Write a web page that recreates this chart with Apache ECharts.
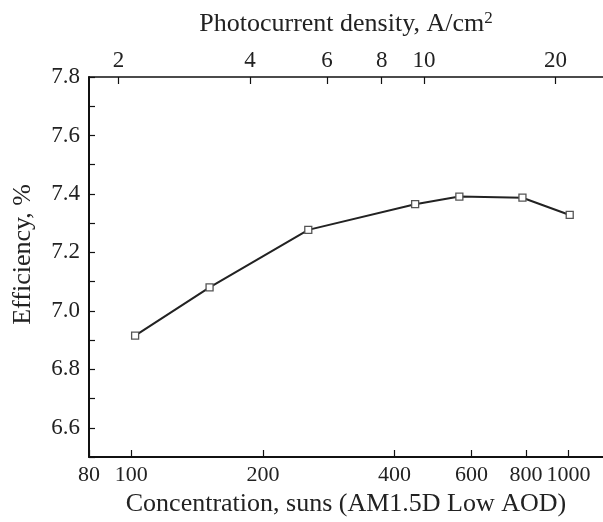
<!DOCTYPE html>
<html>
<head>
<meta charset="utf-8">
<script src="https://cdn.jsdelivr.net/npm/echarts@6/dist/echarts.min.js"></script>
<style>html,body{margin:0;padding:0;background:#fff;}#c{width:603px;height:522px;}</style>
</head>
<body>
<div id="c"></div>
<script>
// Data
const concentration = [102, 151, 254, 446, 563, 785, 1007];
const efficiency = [6.915, 7.08, 7.277, 7.365, 7.391, 7.387, 7.328];
const bottomTicks = [80, 100, 200, 400, 600, 800, 1000];
const topTicks = [2, 4, 6, 8, 10, 20];
const densityPerSun = 0.0214; // A/cm^2 per sun (top axis scale)
const concMin = 80, concMax = 1200;
const yMin = 6.5, yMax = 7.8;

const font = 'Liberation Serif';
const txt = '#222';
const L = Math.log10;

const chart = echarts.init(document.getElementById('c'));
chart.setOption({
  animation: false,
  backgroundColor: '#fff',
  grid: { left: 89, right: -1, top: 77, bottom: 65 },
  xAxis: [
    {
      type: 'value', position: 'bottom',
      min: L(concMin), max: L(concMax),
      axisLine: { show: true, onZero: false, lineStyle: { color: '#111', width: 2 } },
      axisTick: { show: true, inside: true, length: 7, customValues: bottomTicks.map(L), lineStyle: { color: '#111', width: 1.2 } },
      axisLabel: { customValues: bottomTicks.map(L), formatter: v => String(Math.round(Math.pow(10, v))), fontFamily: font, fontSize: 22, color: txt, margin: 7 },
      splitLine: { show: false },
      name: 'Concentration, suns (AM1.5D Low AOD)', nameLocation: 'middle', nameGap: 31,
      nameTextStyle: { fontFamily: font, fontSize: 26, color: txt }
    },
    {
      type: 'value', position: 'top',
      min: L(concMin * densityPerSun), max: L(concMax * densityPerSun),
      axisLine: { show: true, onZero: false, lineStyle: { color: '#111', width: 1.5 } },
      axisTick: { show: true, inside: true, length: 7, customValues: topTicks.map(L), lineStyle: { color: '#111', width: 1.2 } },
      axisLabel: { customValues: topTicks.map(L), formatter: v => String(Math.round(Math.pow(10, v))), fontFamily: font, fontSize: 23, color: txt, margin: 5 },
      splitLine: { show: false },
      name: 'Photocurrent density, A/cm{sup|2}', nameLocation: 'middle', nameGap: 38,
      nameTextStyle: { fontFamily: font, fontSize: 26, color: txt, rich: { sup: { fontFamily: font, fontSize: 17, color: txt, verticalAlign: 'top', padding: [0, 0, 12, 0] } } }
    }
  ],
  yAxis: {
    type: 'value', min: yMin, max: yMax, interval: 0.1,
    axisLine: { show: true, lineStyle: { color: '#111', width: 2 } },
    axisTick: { show: true, inside: true, length: 6, lineStyle: { color: '#111', width: 1.2 } },
    axisLabel: {
      fontFamily: font, fontSize: 23, color: txt, margin: 9,
      formatter: v => (Math.round(v * 10) % 2 === 0 ? v.toFixed(1) : '')
    },
    splitLine: { show: false }
  },
  graphic: [{
    type: 'text', left: 10, top: 184,
    style: { text: 'Efficiency, %', font: '26px "Liberation Serif"', fill: txt },
    rotation: Math.PI / 2, originX: 0, originY: 0
  }],
  series: [{
    type: 'line', xAxisIndex: 0,
    data: concentration.map((c, i) => [L(c), efficiency[i]]),
    symbol: 'rect', symbolSize: 7,
    lineStyle: { color: '#222', width: 2 },
    itemStyle: { color: '#fff', borderColor: '#555', borderWidth: 1.3 }
  }]
});
</script>
</body>
</html>
